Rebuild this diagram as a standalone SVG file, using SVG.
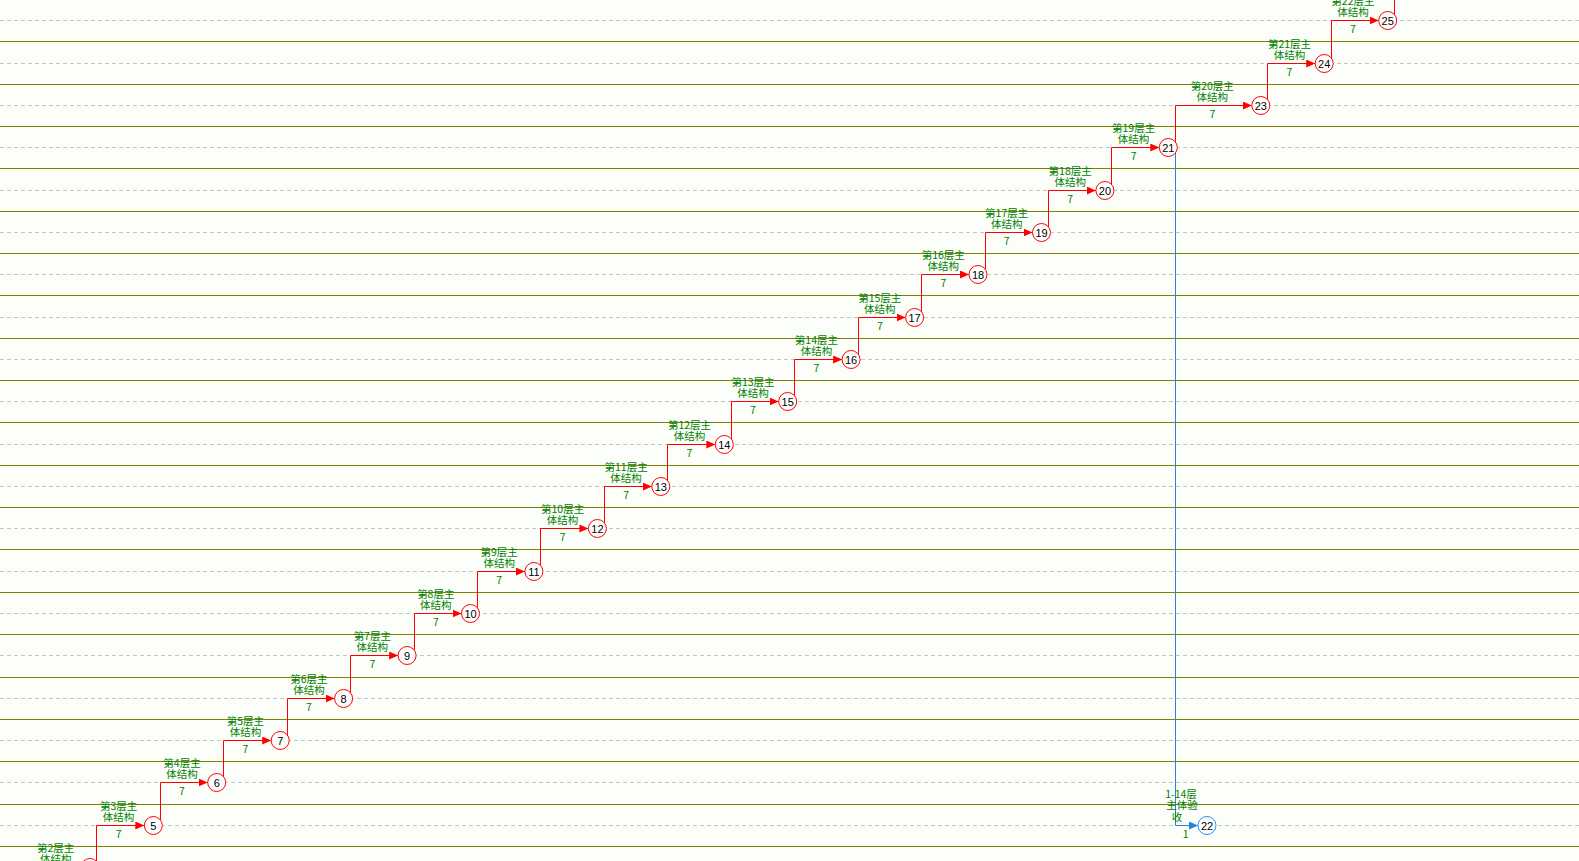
<svg xmlns="http://www.w3.org/2000/svg" width="1579" height="861" viewBox="0 0 1579 861">
<style>
.bg{fill:#fcfef9}
.grid{stroke:#808000;stroke-width:1;fill:none}
.dash{stroke:#c4c4c4;stroke-width:1;stroke-dasharray:4,3;fill:none}
.edge{stroke:#ff0000;stroke-width:1;fill:none}
.edgeb{stroke:#2a80dc;stroke-width:1;fill:none}
.node circle{fill:#ffffff;stroke:#ff0000;stroke-width:1}
.node.blue circle{stroke:#2a8cff}
.node text{font-family:"Liberation Sans",Arial,sans-serif;font-size:11px;fill:#000;text-anchor:middle}
.lbl{font-family:"Noto Sans CJK SC","Noto Sans",sans-serif;font-size:10.5px;fill:#008000;text-anchor:middle}
</style>
<defs>
<marker id="ar" markerUnits="userSpaceOnUse" markerWidth="10" markerHeight="9" refX="9" refY="4" orient="auto"><path d="M0,0 L9,4 L0,8 z" fill="#ff0000"/></marker>
<marker id="ab" markerUnits="userSpaceOnUse" markerWidth="10" markerHeight="9" refX="9" refY="4" orient="auto"><path d="M0,0 L9,4 L0,8 z" fill="#2a80dc"/></marker>
</defs>
<rect class="bg" x="0" y="0" width="1579" height="861"/>
<g id="grid">
<path class="dash" d="M0,20.5H1579M0,63.5H1579M0,105.5H1579M0,147.5H1579M0,190.5H1579M0,232.5H1579M0,274.5H1579M0,317.5H1579M0,359.5H1579M0,401.5H1579M0,444.5H1579M0,486.5H1579M0,528.5H1579M0,571.5H1579M0,613.5H1579M0,655.5H1579M0,698.5H1579M0,740.5H1579M0,782.5H1579M0,825.5H1579"/>
<path class="grid" d="M0,41.5H1579M0,84.5H1579M0,126.5H1579M0,168.5H1579M0,211.5H1579M0,253.5H1579M0,295.5H1579M0,338.5H1579M0,380.5H1579M0,422.5H1579M0,465.5H1579M0,507.5H1579M0,549.5H1579M0,592.5H1579M0,634.5H1579M0,677.5H1579M0,719.5H1579M0,761.5H1579M0,804.5H1579M0,846.5H1579"/>
</g>
<g id="connectors">
<g id="e3-4"><text class="lbl" x="55.7" y="851.5">第2层主</text><text class="lbl" x="55.7" y="863">体结构</text></g>
<g id="e4-5"><path class="edge" marker-end="url(#ar)" d="M96.5,862V825.5H144.3"/><text class="lbl" x="118.6" y="809.5">第3层主</text><text class="lbl" x="118.6" y="821">体结构</text><text class="lbl" x="118.6" y="837.5">7</text></g>
<g id="e5-6"><path class="edge" marker-end="url(#ar)" d="M160.5,820V782.5H207.7"/><text class="lbl" x="182" y="766.5">第4层主</text><text class="lbl" x="182" y="778">体结构</text><text class="lbl" x="182" y="794.5">7</text></g>
<g id="e6-7"><path class="edge" marker-end="url(#ar)" d="M223.5,777V740.5H271.2"/><text class="lbl" x="245.4" y="724.5">第5层主</text><text class="lbl" x="245.4" y="736">体结构</text><text class="lbl" x="245.4" y="752.5">7</text></g>
<g id="e7-8"><path class="edge" marker-end="url(#ar)" d="M287.5,735V698.5H334.6"/><text class="lbl" x="308.9" y="682.5">第6层主</text><text class="lbl" x="308.9" y="694">体结构</text><text class="lbl" x="308.9" y="710.5">7</text></g>
<g id="e8-9"><path class="edge" marker-end="url(#ar)" d="M350.5,693V655.5H398.1"/><text class="lbl" x="372.3" y="639.5">第7层主</text><text class="lbl" x="372.3" y="651">体结构</text><text class="lbl" x="372.3" y="667.5">7</text></g>
<g id="e9-10"><path class="edge" marker-end="url(#ar)" d="M414.5,650V613.5H461.5"/><text class="lbl" x="435.8" y="597.5">第8层主</text><text class="lbl" x="435.8" y="609">体结构</text><text class="lbl" x="435.8" y="625.5">7</text></g>
<g id="e10-11"><path class="edge" marker-end="url(#ar)" d="M477.5,608V571.5H524.9"/><text class="lbl" x="499.2" y="555.5">第9层主</text><text class="lbl" x="499.2" y="567">体结构</text><text class="lbl" x="499.2" y="583.5">7</text></g>
<g id="e11-12"><path class="edge" marker-end="url(#ar)" d="M540.5,566V528.5H588.4"/><text class="lbl" x="562.6" y="512.5">第10层主</text><text class="lbl" x="562.6" y="524">体结构</text><text class="lbl" x="562.6" y="540.5">7</text></g>
<g id="e12-13"><path class="edge" marker-end="url(#ar)" d="M604.5,523V486.5H651.8"/><text class="lbl" x="626.1" y="470.5">第11层主</text><text class="lbl" x="626.1" y="482">体结构</text><text class="lbl" x="626.1" y="498.5">7</text></g>
<g id="e13-14"><path class="edge" marker-end="url(#ar)" d="M667.5,481V444.5H715.3"/><text class="lbl" x="689.5" y="428.5">第12层主</text><text class="lbl" x="689.5" y="440">体结构</text><text class="lbl" x="689.5" y="456.5">7</text></g>
<g id="e14-15"><path class="edge" marker-end="url(#ar)" d="M731.5,439V401.5H778.7"/><text class="lbl" x="753" y="385.5">第13层主</text><text class="lbl" x="753" y="397">体结构</text><text class="lbl" x="753" y="413.5">7</text></g>
<g id="e15-16"><path class="edge" marker-end="url(#ar)" d="M794.5,396V359.5H842.1"/><text class="lbl" x="816.4" y="343.5">第14层主</text><text class="lbl" x="816.4" y="355">体结构</text><text class="lbl" x="816.4" y="371.5">7</text></g>
<g id="e16-17"><path class="edge" marker-end="url(#ar)" d="M858.5,354V317.5H905.6"/><text class="lbl" x="879.8" y="301.5">第15层主</text><text class="lbl" x="879.8" y="313">体结构</text><text class="lbl" x="879.8" y="329.5">7</text></g>
<g id="e17-18"><path class="edge" marker-end="url(#ar)" d="M921.5,312V274.5H969"/><text class="lbl" x="943.3" y="258.5">第16层主</text><text class="lbl" x="943.3" y="270">体结构</text><text class="lbl" x="943.3" y="286.5">7</text></g>
<g id="e18-19"><path class="edge" marker-end="url(#ar)" d="M985.5,269V232.5H1032.5"/><text class="lbl" x="1006.7" y="216.5">第17层主</text><text class="lbl" x="1006.7" y="228">体结构</text><text class="lbl" x="1006.7" y="244.5">7</text></g>
<g id="e19-20"><path class="edge" marker-end="url(#ar)" d="M1048.5,227V190.5H1095.9"/><text class="lbl" x="1070.2" y="174.5">第18层主</text><text class="lbl" x="1070.2" y="186">体结构</text><text class="lbl" x="1070.2" y="202.5">7</text></g>
<g id="e20-21"><path class="edge" marker-end="url(#ar)" d="M1111.5,185V147.5H1159.3"/><text class="lbl" x="1133.6" y="131.5">第19层主</text><text class="lbl" x="1133.6" y="143">体结构</text><text class="lbl" x="1133.6" y="159.5">7</text></g>
<g id="e21-23"><path class="edge" marker-end="url(#ar)" d="M1175.5,142V105.5H1251.8"/><text class="lbl" x="1212.3" y="89.5">第20层主</text><text class="lbl" x="1212.3" y="101">体结构</text><text class="lbl" x="1212.3" y="117.5">7</text></g>
<g id="e23-24"><path class="edge" marker-end="url(#ar)" d="M1267.5,100V63.5H1315.2"/><text class="lbl" x="1289.5" y="47.5">第21层主</text><text class="lbl" x="1289.5" y="59">体结构</text><text class="lbl" x="1289.5" y="75.5">7</text></g>
<g id="e24-25"><path class="edge" marker-end="url(#ar)" d="M1331.5,58V20.5H1378.7"/><text class="lbl" x="1352.9" y="4.5">第22层主</text><text class="lbl" x="1352.9" y="16">体结构</text><text class="lbl" x="1352.9" y="32.5">7</text></g>
<g id="e25-up"><path class="edge" d="M1394.5,15V0"/></g>
<g id="e21-22"><path class="edgeb" marker-end="url(#ab)" d="M1175.5,153V825.5H1198"/><text class="lbl" x="1181" y="797.5">1-14层</text><text class="lbl" x="1182" y="809">主体验</text><text class="lbl" x="1177" y="820.5">收</text><text class="lbl" x="1185.7" y="837.5">1</text></g>
</g>
<g id="nodes">
<g id="n4" class="node"><circle cx="89.9" cy="867.5" r="9"/><text x="89.9" y="871.5">4</text></g>
<g id="n5" class="node"><circle cx="153.3" cy="825.5" r="9"/><text x="153.3" y="829.5">5</text></g>
<g id="n6" class="node"><circle cx="216.7" cy="782.5" r="9"/><text x="216.7" y="786.5">6</text></g>
<g id="n7" class="node"><circle cx="280.2" cy="740.5" r="9"/><text x="280.2" y="744.5">7</text></g>
<g id="n8" class="node"><circle cx="343.6" cy="698.5" r="9"/><text x="343.6" y="702.5">8</text></g>
<g id="n9" class="node"><circle cx="407.1" cy="655.5" r="9"/><text x="407.1" y="659.5">9</text></g>
<g id="n10" class="node"><circle cx="470.5" cy="613.5" r="9"/><text x="470.5" y="617.5">10</text></g>
<g id="n11" class="node"><circle cx="533.9" cy="571.5" r="9"/><text x="533.9" y="575.5">11</text></g>
<g id="n12" class="node"><circle cx="597.4" cy="528.5" r="9"/><text x="597.4" y="532.5">12</text></g>
<g id="n13" class="node"><circle cx="660.8" cy="486.5" r="9"/><text x="660.8" y="490.5">13</text></g>
<g id="n14" class="node"><circle cx="724.3" cy="444.5" r="9"/><text x="724.3" y="448.5">14</text></g>
<g id="n15" class="node"><circle cx="787.7" cy="401.5" r="9"/><text x="787.7" y="405.5">15</text></g>
<g id="n16" class="node"><circle cx="851.1" cy="359.5" r="9"/><text x="851.1" y="363.5">16</text></g>
<g id="n17" class="node"><circle cx="914.6" cy="317.5" r="9"/><text x="914.6" y="321.5">17</text></g>
<g id="n18" class="node"><circle cx="978" cy="274.5" r="9"/><text x="978" y="278.5">18</text></g>
<g id="n19" class="node"><circle cx="1041.5" cy="232.5" r="9"/><text x="1041.5" y="236.5">19</text></g>
<g id="n20" class="node"><circle cx="1104.9" cy="190.5" r="9"/><text x="1104.9" y="194.5">20</text></g>
<g id="n21" class="node"><circle cx="1168.3" cy="147.5" r="9"/><text x="1168.3" y="151.5">21</text></g>
<g id="n23" class="node"><circle cx="1260.8" cy="105.5" r="9"/><text x="1260.8" y="109.5">23</text></g>
<g id="n24" class="node"><circle cx="1324.2" cy="63.5" r="9"/><text x="1324.2" y="67.5">24</text></g>
<g id="n25" class="node"><circle cx="1387.7" cy="20.5" r="9"/><text x="1387.7" y="24.5">25</text></g>
<g id="n22" class="node blue"><circle cx="1207" cy="825.5" r="9"/><text x="1207" y="829.5">22</text></g>
</g>
</svg>
